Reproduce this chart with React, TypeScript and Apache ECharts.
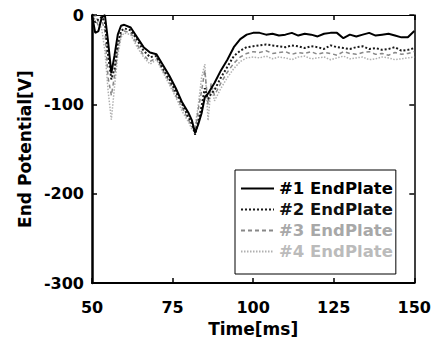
import React, { useEffect, useRef } from "react";
import * as echarts from "echarts";

const times = [
  50, 51, 52, 53, 54, 55, 56, 57, 58, 59, 60,
  62, 64, 66, 68, 70, 72, 74, 76, 78, 80,
  81, 82, 83, 84, 85, 86, 87, 88,
  90, 92, 94, 96, 98,
  100, 102, 104, 106, 108, 110, 112, 114, 116, 118, 120, 122, 124, 126, 128,
  130, 132, 134, 136, 138, 140, 142, 144, 146, 148, 150,
];

const plate1 = [
  0, -20, -18, -3, 0, -30, -65, -45, -22, -12, -11,
  -14, -25, -36, -42, -44, -56, -68, -82, -98, -110,
  -118, -132, -122, -110, -92, -88, -82, -76,
  -62, -50, -36, -27, -22,
  -20, -20, -22, -21, -23, -22, -20, -23, -21, -22, -24, -21, -20, -20, -26,
  -22, -24, -22, -20, -23, -22, -21, -23, -25, -25, -18,
];

const plate2 = [
  -3, -8, -5, -2, -8, -45, -72, -60, -32, -18, -15,
  -17, -28, -40, -47, -46, -60, -72, -86, -100, -115,
  -122, -134, -118, -102, -82, -94, -88, -84,
  -70, -58, -46, -40, -36,
  -35, -34, -33, -34, -35, -36, -34, -35, -37, -35, -36, -38, -34, -36, -37,
  -38, -36, -35, -38, -37, -39, -38, -36, -40, -39, -37,
];

const plate3 = [
  -2, -5, -12, -5, -18, -70, -90, -68, -40, -22, -18,
  -20, -33, -45, -52, -48, -62, -75, -90, -104, -118,
  -124, -130, -105, -85, -62, -100, -76, -90,
  -76, -64, -54, -47, -43,
  -41, -42, -40, -43, -42, -41, -44, -42, -43, -41, -44, -42, -43, -45, -41,
  -43, -44, -42, -41, -44, -43, -45, -42, -44, -43, -41,
];

const plate4 = [
  -5, 0, -8, -15, -40, -85, -117, -80, -45, -25, -20,
  -22, -36, -47, -55, -50, -64, -78, -92, -108, -120,
  -128, -125, -100, -70, -55, -118, -80, -96,
  -82, -70, -60, -52, -48,
  -47, -48, -46, -49, -47, -48, -50, -47, -46, -49, -48, -47, -50, -48, -46,
  -49, -48, -47, -50, -49, -47, -48, -50, -49, -48, -47,
];

const seriesNames = ["#1 EndPlate", "#2 EndPlate", "#3 EndPlate", "#4 EndPlate"];
const xTicks = { min: 50, max: 150, interval: 25 };
const yTicks = { min: -300, max: 0, interval: 100 };

const FONT = "DejaVu Sans";

export default function App() {
  const ref = useRef<HTMLDivElement>(null);
  useEffect(() => {
    if (!ref.current) return;
    const chart = echarts.init(ref.current, undefined, { renderer: "svg" });
    const pair = (arr: number[]) => times.map((t, i) => [t, arr[i]]);
    const styles = [
      { color: "#000000", width: 2, type: "solid" as any, z: 6, text: "#000000" },
      { color: "#1a1a1a", width: 2, type: [2, 2] as any, z: 5, text: "#111111" },
      { color: "#888888", width: 1.5, type: [4, 3] as any, z: 4, text: "#a8a8a8" },
      { color: "#b0b0b0", width: 1.5, type: [1.5, 1.5] as any, z: 3, text: "#bbbbbb" },
    ];
    const datas = [plate1, plate2, plate3, plate4];
    const tickStyle = { show: true, inside: true, length: 5, lineStyle: { color: "#000", width: 1.5 } };
    chart.setOption({
      animation: false,
      backgroundColor: "#ffffff",
      grid: { left: 92, right: 19, top: 15, bottom: 50, containLabel: false },
      legend: {
        orient: "vertical",
        left: 235,
        top: 170,
        padding: [10, 3, 14, 5],
        itemGap: 4,
        itemWidth: 33,
        itemHeight: 14,
        borderColor: "#000",
        borderWidth: 1,
        backgroundColor: "#ffffff",
        itemStyle: { opacity: 0 },
        data: seriesNames.map((n, i) => ({
          name: n,
          textStyle: { color: styles[i].text },
        })),
        textStyle: { fontFamily: FONT, fontWeight: "bold", fontSize: 16.5, lineHeight: 17 },
      },
      xAxis: [
        {
          type: "value",
          position: "bottom",
          min: xTicks.min,
          max: xTicks.max,
          interval: xTicks.interval,
          name: "Time[ms]",
          nameLocation: "middle",
          nameGap: 31,
          nameTextStyle: { fontFamily: FONT, fontWeight: "bold", fontSize: 17, color: "#000" },
          axisLine: { show: true, onZero: false, lineStyle: { color: "#000", width: 2 } },
          axisTick: tickStyle,
          axisLabel: { margin: 16, fontFamily: FONT, fontWeight: "bold", fontSize: 16, color: "#000" },
          splitLine: { show: false },
        },
        {
          type: "value",
          position: "top",
          min: xTicks.min,
          max: xTicks.max,
          interval: xTicks.interval,
          axisLine: { show: true, onZero: false, lineStyle: { color: "#000", width: 1 } },
          axisTick: tickStyle,
          axisLabel: { show: false },
          splitLine: { show: false },
        },
      ],
      yAxis: [
        {
          type: "value",
          position: "left",
          min: yTicks.min,
          max: yTicks.max,
          interval: yTicks.interval,
          name: "End Potential[V]",
          nameLocation: "middle",
          nameGap: 53,
          nameTextStyle: { fontFamily: FONT, fontWeight: "bold", fontSize: 17, color: "#000" },
          axisLine: { show: true, onZero: false, lineStyle: { color: "#000", width: 2.5 } },
          axisTick: tickStyle,
          axisLabel: { margin: 8, fontFamily: FONT, fontWeight: "bold", fontSize: 16, color: "#000" },
          splitLine: { show: false },
        },
        {
          type: "value",
          position: "right",
          min: yTicks.min,
          max: yTicks.max,
          interval: yTicks.interval,
          axisLine: { show: true, onZero: false, lineStyle: { color: "#000", width: 1.5 } },
          axisTick: tickStyle,
          axisLabel: { show: false },
          splitLine: { show: false },
        },
      ],
      series: datas.map((d, i) => ({
        name: seriesNames[i],
        type: "line",
        xAxisIndex: 0,
        yAxisIndex: 0,
        data: pair(d),
        showSymbol: false,
        symbol: "none",
        z: styles[i].z,
        lineStyle: { color: styles[i].color, width: styles[i].width, type: styles[i].type },
        itemStyle: { color: styles[i].color },
      })),
    });
    return () => chart.dispose();
  }, []);
  return (
    <div
      ref={ref}
      style={{ position: "absolute", left: 0, top: 0, width: 434, height: 342 }}
    />
  );
}
